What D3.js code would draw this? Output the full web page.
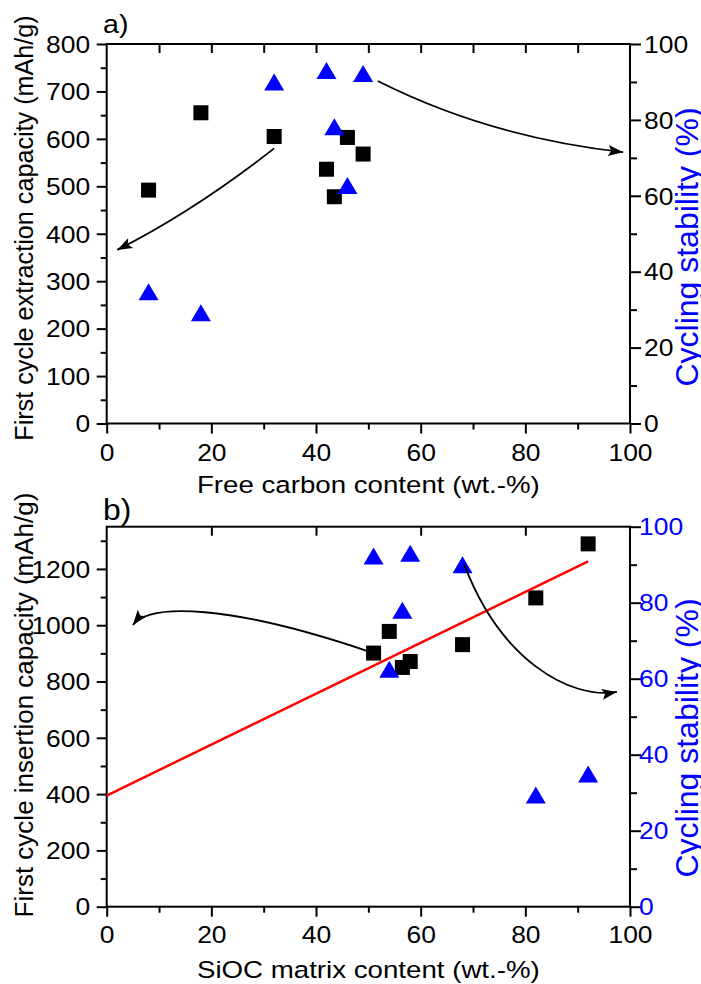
<!DOCTYPE html>
<html>
<head>
<meta charset="utf-8">
<script src="https://cdn.jsdelivr.net/npm/d3@7"></script>
<style>
body{margin:0;background:#fff;}
text{font-family:"Liberation Sans",Arial,sans-serif;}
</style>
</head>
<body>
<div id="chart"></div>
<script>
/* Data */
// panel a) free carbon content vs. extraction capacity and cycling stability
var freeCarbon = [8, 18, 32, 42, 43.5, 46, 49];
var extraction = [492, 655, 605, 536, 478, 603, 568];
var stabilityA = [34.7, 29.2, 90, 93, 78.2, 62.7, 92.2];

// panel b) SiOC matrix content vs. insertion capacity and cycling stability
var siocMatrix = [51, 54, 56.5, 58, 68, 82, 92];
var insertion = [901, 978, 850, 871, 931, 1097, 1289];
var stabilityB = [92.3, 62.5, 78, 93, 90, 29.4, 34.9];

// linear fit drawn in panel b (end points)
var fitX = [0, 92];
var fitY = [395, 1227];

// tick values
var xMajor = [0, 20, 40, 60, 80, 100];
var xMinor = [10, 30, 50, 70, 90];
var rMajor = [0, 20, 40, 60, 80, 100];
var rMinor = [10, 30, 50, 70, 90];
var yMajorA = d3.range(0, 801, 100);
var yMinorA = d3.range(50, 800, 100);
var yMajorB = d3.range(0, 1201, 200);
var yMinorB = d3.range(100, 1301, 200);

// hand drawn arrows, in data units of each panel (x, left y)
var arrowsA = [
    [[32.0, 580], [16.7, 448], [2.0, 366]],
    [[51.8, 722], [73.2, 603], [98.7, 572]]
];
var arrowsB = [
    [[49.7, 909], [23.6, 1073], [8.3, 1080], [5.0, 1001]],
    [[68.3, 1217], [75.2, 877], [88.5, 735], [97.5, 763]]
];

/* Layout */
var blue = '#0000ff';
var sx = 1.15;   // upright labels are a bit wide in the original
var svg = d3.select('#chart').append('svg')
    .attr('width', 701)
    .attr('height', 984);

var x = d3.scaleLinear().domain([0, 100]).range([106.7, 630]);

var panels = [
    {top: 44, bottom: 423.5, yMax: 800, yMajor: yMajorA, yMinor: yMinorA,
     topTicks: d3.range(10, 100, 10), rightColor: '#000', rightPad: 14, xPad: 38,
     xs: freeCarbon, caps: extraction, stab: stabilityA, arrows: arrowsA,
     tag: 'a)', tagY: 33, tagSize: 26,
     xTitle: 'Free carbon content (wt.-%)', xTitleY: 492.7,
     yTitle: 'First cycle extraction capacity (mAh/g)', yTitleMid: 228, yTitleSize: 25.2,
     rTitleMid: 247},
    {top: 526.7, bottom: 906.7, yMax: 1350, yMajor: yMajorB, yMinor: yMinorB,
     topTicks: [20, 40, 60, 80], rightColor: blue, rightPad: 9, xPad: 36.6,
     xs: siocMatrix, caps: insertion, stab: stabilityB, arrows: arrowsB,
     tag: 'b)', tagY: 520, tagSize: 29,
     xTitle: 'SiOC matrix content (wt.-%)', xTitleY: 978,
     yTitle: 'First cycle insertion capacity (mAh/g)', yTitleMid: 705, yTitleSize: 26,
     rTitleMid: 738, fit: true}
];

panels.forEach(drawPanel);

/*
 * draw one panel: axes, markers, arrows and titles
 */
function drawPanel(p){
    var yL = d3.scaleLinear().domain([0, p.yMax]).range([p.bottom, p.top]);
    var yR = d3.scaleLinear().domain([0, 100]).range([p.bottom, p.top]);
    var g = svg.append('g');
    var fmt = d3.format('d');

    // ticks
    var bottomAx = g.append('g').attr('transform', 'translate(0,' + p.bottom + ')');
    bottomAx.call(d3.axisBottom(x).tickValues(xMajor).tickSize(10).tickSizeOuter(0).tickFormat(fmt));
    bottomAx.append('g').call(d3.axisBottom(x).tickValues(xMinor).tickSize(6).tickSizeOuter(0).tickFormat(''));
    bottomAx.selectAll('text')
        .attr('y', p.xPad).attr('dy', null)
        .attr('transform', 'scale(' + sx + ',1)');

    var topAx = g.append('g').attr('transform', 'translate(0,' + p.top + ')');
    topAx.call(d3.axisTop(x).tickValues(p.topTicks).tickSize(-9).tickSizeOuter(0).tickFormat(''));

    var leftAx = g.append('g').attr('transform', 'translate(' + x(0) + ',0)');
    leftAx.call(d3.axisLeft(yL).tickValues(p.yMajor).tickSize(10).tickSizeOuter(0).tickFormat(fmt));
    leftAx.append('g').call(d3.axisLeft(yL).tickValues(p.yMinor).tickSize(6).tickSizeOuter(0).tickFormat(''));
    leftAx.selectAll('text')
        .attr('x', -16.5 / sx).attr('dy', '0.36em')
        .attr('transform', 'scale(' + sx + ',1)');

    var rightAx = g.append('g').attr('transform', 'translate(' + x(100) + ',0)');
    rightAx.call(d3.axisRight(yR).tickValues(rMajor).tickSize(11).tickSizeOuter(0).tickFormat(fmt));
    rightAx.append('g').call(d3.axisRight(yR).tickValues(rMinor).tickSize(7).tickSizeOuter(0).tickFormat(''));
    rightAx.selectAll('text')
        .attr('x', p.rightPad / sx).attr('dy', '0.36em')
        .attr('fill', p.rightColor)
        .attr('transform', 'scale(' + sx + ',1)');

    g.selectAll('.domain').remove();
    g.selectAll('.tick line').attr('stroke', '#000').attr('stroke-width', 2);
    g.selectAll('.tick text')
        .attr('font-size', 23)
        .attr('font-family', '"Liberation Sans",Arial,sans-serif');

    // frame
    g.append('rect')
        .attr('x', x(0)).attr('y', p.top)
        .attr('width', x(100) - x(0)).attr('height', p.bottom - p.top)
        .attr('fill', 'none').attr('stroke', '#000').attr('stroke-width', 2);

    var pts = p.xs.map(function(d, i){ return {x: d, cap: p.caps[i], stab: p.stab[i]}; });

    // squares: capacity
    g.selectAll('rect.cap')
        .data(pts)
        .enter()
        .append('rect')
        .attr('class', 'cap')
        .attr('x', function(d){ return x(d.x) - 7.5; })
        .attr('y', function(d){ return yL(d.cap) - 7.5; })
        .attr('width', 15)
        .attr('height', 15)
        .attr('fill', '#000');

    // fit line
    if (p.fit){
        g.append('path')
            .datum(fitX.map(function(d, i){ return [d, fitY[i]]; }))
            .attr('d', d3.line().x(function(d){ return x(d[0]); }).y(function(d){ return yL(d[1]); }))
            .attr('stroke', '#ff0000')
            .attr('stroke-width', 2.5)
            .attr('fill', 'none');
    }

    // triangles: cycling stability
    g.selectAll('path.stab')
        .data(pts)
        .enter()
        .append('path')
        .attr('class', 'stab')
        .attr('transform', function(d){ return 'translate(' + x(d.x) + ',' + yR(d.stab) + ')'; })
        .attr('d', 'M0,-8.5L10,8.5L-10,8.5Z')
        .attr('fill', blue);

    // arrows
    p.arrows.forEach(function(a){
        var q = a.map(function(d){ return [x(d[0]), yL(d[1])]; });
        var path = d3.path();
        path.moveTo(q[0][0], q[0][1]);
        if (q.length == 3){
            path.quadraticCurveTo(q[1][0], q[1][1], q[2][0], q[2][1]);
        }
        else{
            path.bezierCurveTo(q[1][0], q[1][1], q[2][0], q[2][1], q[3][0], q[3][1]);
        }
        g.append('path')
            .attr('d', path.toString())
            .attr('fill', 'none')
            .attr('stroke', '#000')
            .attr('stroke-width', 1.8);
        var tip = q[q.length - 1], prev = q[q.length - 2];
        var ang = Math.atan2(tip[1] - prev[1], tip[0] - prev[0]) * 180 / Math.PI;
        g.append('path')
            .attr('transform', 'translate(' + tip[0] + ',' + tip[1] + ') rotate(' + ang + ')')
            .attr('d', 'M0,0L-15,-5.5L-12,0L-15,5.5Z')
            .attr('fill', '#000');
    });

    // titles
    g.append('text')
        .attr('transform', 'translate(103,' + p.tagY + ') scale(1.1,1)')
        .style('font-size', p.tagSize + 'px')
        .text(p.tag);

    g.append('text')
        .attr('transform', 'translate(' + (x(0) + x(100)) / 2 + ',' + p.xTitleY + ') scale(1.13,1)')
        .attr('text-anchor', 'middle')
        .style('font-size', '24.5px')
        .text(p.xTitle);

    g.append('text')
        .attr('transform', 'translate(33,' + p.yTitleMid + ') rotate(-90)')
        .attr('text-anchor', 'middle')
        .style('font-size', p.yTitleSize + 'px')
        .text(p.yTitle);

    g.append('text')
        .attr('transform', 'translate(698,' + p.rTitleMid + ') rotate(-90)')
        .attr('text-anchor', 'middle')
        .attr('fill', blue)
        .style('font-size', '32px')
        .text('Cycling stability (%)');
}
</script>
</body>
</html>
